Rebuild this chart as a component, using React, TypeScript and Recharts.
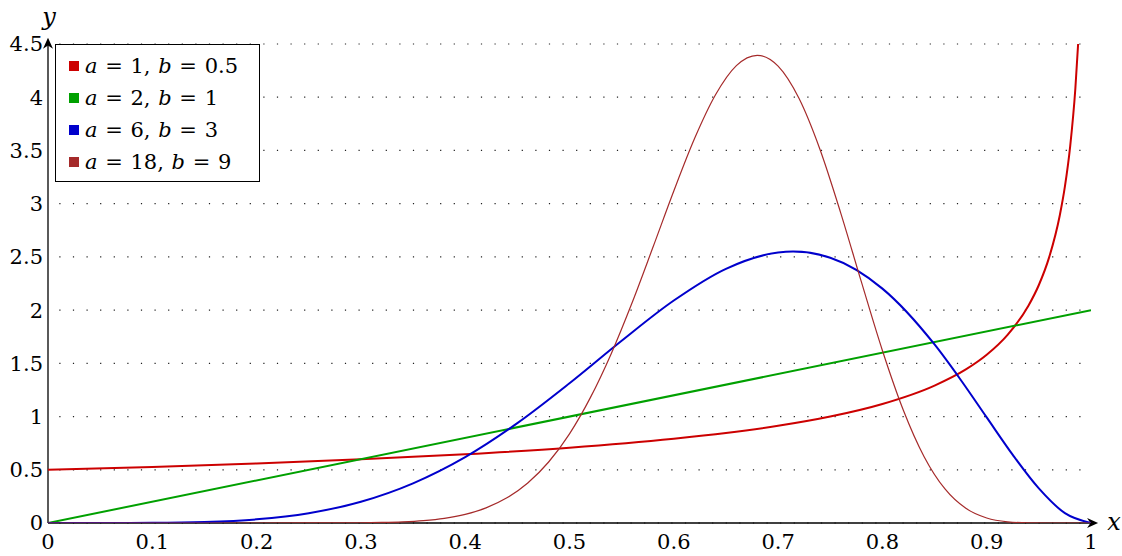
import {
  LineChart,
  Line,
  XAxis,
  YAxis,
  CartesianGrid,
  ReferenceLine,
  Legend,
} from "recharts";

const xTicks = [0, 0.1, 0.2, 0.3, 0.4, 0.5, 0.6, 0.7, 0.8, 0.9, 1];
const yTicks = [0, 0.5, 1, 1.5, 2, 2.5, 3, 3.5, 4, 4.5];

const aParams = [1, 2, 6, 18];
const bParams = [0.5, 1, 3, 9];
const colors = ["#cc0000", "#00a000", "#0000cc", "#a52a2a"];
const widths = [2, 2, 2, 1.2];

// a = 1, b = 0.5
const redX = [0, 0.1, 0.2, 0.3, 0.4, 0.5, 0.6, 0.65, 0.7, 0.75, 0.8, 0.85, 0.88, 0.9, 0.92, 0.94, 0.95, 0.96, 0.97, 0.975, 0.98, 0.985, 0.98765];
const redY = [0.5, 0.527, 0.559, 0.598, 0.646, 0.707, 0.791, 0.845, 0.913, 1.0, 1.118, 1.291, 1.443, 1.581, 1.768, 2.041, 2.236, 2.5, 2.887, 3.162, 3.536, 4.082, 4.5];

// a = 2, b = 1
const greenX = [0, 1];
const greenY = [0, 2];

// a = 6, b = 3
const blueX = [0, 0.05, 0.1, 0.15, 0.2, 0.25, 0.3, 0.35, 0.4, 0.45, 0.5, 0.55, 0.6, 0.65, 0.7, 0.7143, 0.75, 0.8, 0.85, 0.875, 0.9, 0.925, 0.95, 0.975, 1];
const blueY = [0, 0.00005, 0.0014, 0.0092, 0.0344, 0.0923, 0.2, 0.373, 0.619, 0.938, 1.3125, 1.712, 2.09, 2.388, 2.541, 2.55, 2.492, 2.202, 1.677, 1.346, 0.992, 0.64, 0.325, 0.0925, 0];

// a = 18, b = 9
const brownX = [0, 0.2, 0.3, 0.32, 0.34, 0.36, 0.38, 0.4, 0.42, 0.44, 0.46, 0.48, 0.5, 0.52, 0.54, 0.56, 0.58, 0.6, 0.62, 0.64, 0.66, 0.68, 0.7, 0.72, 0.74, 0.76, 0.78, 0.8, 0.82, 0.84, 0.86, 0.88, 0.9, 0.92, 0.94, 0.96, 0.98, 1];
const brownY = [0, 0, 0.0021, 0.005, 0.011, 0.0227, 0.0441, 0.0812, 0.1418, 0.2362, 0.3759, 0.573, 0.838, 1.178, 1.591, 2.069, 2.59, 3.119, 3.614, 4.023, 4.297, 4.394, 4.292, 3.99, 3.514, 2.914, 2.26, 1.621, 1.062, 0.623, 0.3195, 0.1376, 0.0469, 0.0114, 0.0017, 0.0001, 0, 0];

const seriesX = [redX, greenX, blueX, brownX];
const seriesY = [redY, greenY, blueY, brownY];

const series = seriesX.map((xs, i) => ({
  name: `a = ${aParams[i]}, b = ${bParams[i]}`,
  color: colors[i],
  width: widths[i],
  data: xs.map((x, j) => ({ x, y: seriesY[i][j] })),
}));

const FONT = "DejaVu Serif";

function Arrow(props: any) {
  const { x1, y1, x2, y2, text } = props;
  const dx = x2 - x1;
  const dy = y2 - y1;
  const len = Math.sqrt(dx * dx + dy * dy) || 1;
  const ux = dx / len;
  const uy = dy / len;
  const px = -uy;
  const py = ux;
  const L = 11;
  const W = 5;
  const head = [
    [x2, y2],
    [x2 - ux * L + px * W, y2 - uy * L + py * W],
    [x2 - ux * L * 0.7, y2 - uy * L * 0.7],
    [x2 - ux * L - px * W, y2 - uy * L - py * W],
  ]
    .map((p) => p.join(","))
    .join(" ");
  const horizontal = Math.abs(dx) > Math.abs(dy);
  return (
    <g>
      <line x1={x1} y1={y1} x2={x2 - ux * 4} y2={y2 - uy * 4} stroke="#000" strokeWidth={1.3} />
      <polygon points={head} fill="#000" />
      <text
        x={horizontal ? x2 + 16 : x2 + 1}
        y={horizontal ? y2 : y2 - 19}
        textAnchor="middle"
        dominantBaseline="middle"
        style={{ fontFamily: FONT, fontStyle: "italic", fontSize: 24 }}
        fill="#000"
      >
        {text}
      </text>
    </g>
  );
}

function LegendBox() {
  return (
    <div
      style={{
        width: 205,
        height: 138,
        boxSizing: "border-box",
        border: "1px solid #000",
        background: "#fff",
        paddingTop: 5,
        fontFamily: FONT,
        fontSize: 21,
        color: "#000",
      }}
    >
      {series.map((s, i) => (
        <div
          key={s.name}
          style={{ height: 32, display: "flex", alignItems: "center", paddingLeft: 13 }}
        >
          <span style={{ width: 10, height: 10, background: s.color, marginRight: 6, display: "inline-block" }} />
          <span style={{ whiteSpace: "pre", wordSpacing: 1 }}>
            <i>a</i> = {aParams[i]}, <i>b</i> = {bParams[i]}
          </span>
        </div>
      ))}
    </div>
  );
}

const tickStyle = { fill: "#000", fontSize: 21, style: { fontFamily: FONT } };

export default function App() {
  return (
    <div style={{ position: "absolute", left: 0, top: 0, background: "#fff", fontFamily: FONT }}>
      <LineChart
        width={1122}
        height={556}
        margin={{ top: 44, right: 31, left: 0, bottom: 0 }}
        style={{ fontFamily: FONT }}
      >
        <CartesianGrid
          vertical={false}
          stroke="#222"
          strokeWidth={1.2}
          strokeDasharray="1.2 12.4"
          strokeDashoffset={2.3}
        />
        <XAxis
          dataKey="x"
          type="number"
          domain={[0, 1]}
          ticks={xTicks}
          allowDataOverflow
          axisLine={false}
          tickLine={false}
          tickSize={6}
          tickMargin={5}
          height={33}
          interval={0}
          tick={tickStyle}
        />
        <YAxis
          dataKey="y"
          type="number"
          domain={[0, 4.5]}
          ticks={yTicks}
          allowDataOverflow
          axisLine={false}
          tickLine={false}
          tickSize={3}
          tickMargin={2}
          width={48}
          interval={0}
          tick={tickStyle}
        />
        <ReferenceLine
          segment={[{ x: 0, y: 0 }, { x: 1.0068, y: 0 }]}
          ifOverflow="visible"
          shape={(p: any) => <Arrow {...p} text="x" />}
        />
        <ReferenceLine
          segment={[{ x: 0, y: 0 }, { x: 0, y: 4.558 }]}
          ifOverflow="visible"
          shape={(p: any) => <Arrow {...p} text="y" />}
        />
        {series.map((s) => (
          <Line
            key={s.name}
            data={s.data}
            dataKey="y"
            name={s.name}
            type="monotone"
            stroke={s.color}
            strokeWidth={s.width}
            dot={false}
            activeDot={false}
            isAnimationActive={false}
          />
        ))}
        <Legend
          layout="vertical"
          align="center"
          verticalAlign="middle"
          wrapperStyle={{ left: 55, top: 44, width: 205, height: 138 }}
          content={() => <LegendBox />}
        />
      </LineChart>
    </div>
  );
}
